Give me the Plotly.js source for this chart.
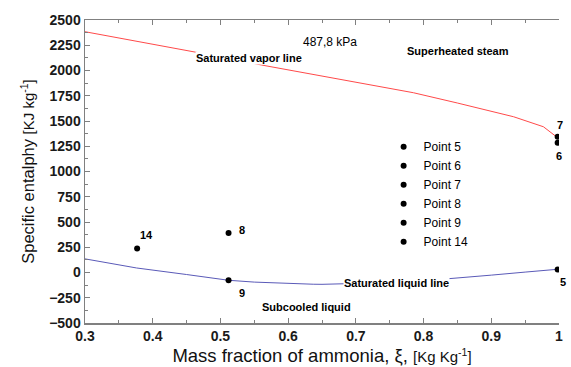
<!DOCTYPE html>
<html>
<head>
<meta charset="utf-8">
<script src="https://cdn.plot.ly/plotly-3.0.1.min.js"></script>
<style>html,body{margin:0;padding:0;background:#fff;}#chart{width:571px;height:367px;}</style>
</head>
<body>
<div id="chart"></div>
<script>
// Saturated vapor line (red)
const vaporX = [0.3, 0.35, 0.4, 0.463, 0.5, 0.561, 0.6, 0.65, 0.696, 0.75, 0.785, 0.85, 0.884, 0.933, 0.977, 0.995];
const vaporY = [2384, 2323, 2262, 2186, 2136, 2054, 2005, 1945, 1889, 1823, 1780, 1678, 1625, 1542, 1443, 1350];
// Saturated liquid line (blue)
const liquidX = [0.3, 0.35, 0.376, 0.45, 0.512, 0.55, 0.6, 0.637, 0.65, 0.7, 0.75, 0.8, 0.844, 0.9, 0.95, 0.998];
const liquidY = [135, 75, 45, -20, -77, -95, -110, -116, -117, -112, -100, -82, -60, -26, 4, 32];
// State points
const pointNames = ['Point 5', 'Point 6', 'Point 7', 'Point 8', 'Point 9', 'Point 14'];
const pointLabels = ['5', '6', '7', '8', '9', '14'];
const pointX = [0.998, 0.998, 0.998, 0.512, 0.512, 0.377];
const pointY = [30, 1284, 1344, 392, -77, 238];

// label pixel offsets (style only)
const labelShift = {'5': [5, -13], '6': [1, -13], '7': [2, 12], '8': [13, 3], '9': [13, -13], '14': [9, 13]};

const F = 'Liberation Sans, Arial, sans-serif';
const traces = [
  {x: vaporX, y: vaporY, mode: 'lines', line: {color: '#ff4a4a', width: 1}, showlegend: false, hoverinfo: 'skip'},
  {x: liquidX, y: liquidY, mode: 'lines', line: {color: '#5a5ab8', width: 1}, showlegend: false, hoverinfo: 'skip'}
];
pointNames.forEach((n, i) => {
  traces.push({x: [pointX[i]], y: [pointY[i]], name: n, mode: 'markers',
    marker: {color: '#000', size: 6}});
});

const annotations = [];
pointLabels.forEach((l, i) => {
  annotations.push({x: pointX[i], y: pointY[i], text: '<b>' + l + '</b>', showarrow: false,
    xshift: labelShift[l][0], yshift: labelShift[l][1], font: {family: F, size: 11, color: '#000'}});
});
const bold = {family: F, size: 11, color: '#000'};
annotations.push(
  {x: 0.662, y: 2284, text: '487,8 kPa', showarrow: false, font: {family: F, size: 12, color: '#000'}},
  {x: 0.851, y: 2193, text: '<b>Superheated steam</b>', showarrow: false, font: bold},
  {x: 0.542, y: 2120, text: '<b>Saturated vapor line</b>', showarrow: false, font: bold, bgcolor: '#fff', borderpad: 0},
  {x: 0.760, y: -99, text: '<b>Saturated liquid line</b>', showarrow: false, font: bold, bgcolor: '#fff', borderpad: 0},
  {x: 0.627, y: -341, text: '<b>Subcooled liquid</b>', showarrow: false, font: bold}
);

const tickFont = {family: F, size: 14, color: '#1a1a1a', weight: 'bold'};
const layout = {
  width: 571, height: 367,
  margin: {l: 85, r: 12, t: 20, b: 44, pad: 0},
  paper_bgcolor: '#fff', plot_bgcolor: '#fff',
  font: {family: F, size: 13, color: '#222'},
  showlegend: true,
  legend: {x: 0.63, y: 0.425, xanchor: 'left', yanchor: 'middle', bgcolor: 'rgba(0,0,0,0)',
    font: {family: F, size: 12, color: '#000'}, tracegroupgap: 0},
  xaxis: {range: [0.3, 1.0], dtick: 0.1, tick0: 0.3, tickformat: '.1~f',
    showgrid: false, zeroline: false, showline: true, linecolor: '#808080', linewidth: 1.5,
    mirror: 'ticks', ticks: 'inside', ticklen: 5, tickcolor: '#808080', tickwidth: 1,
    minor: {dtick: 0.05, ticks: 'inside', ticklen: 3, tickcolor: '#808080'},
    tickfont: tickFont,
    title: {text: '\u00a0\u00a0\u00a0\u00a0\u00a0\u00a0Mass fraction of ammonia, ξ, <span style="font-size:15px">[Kg Kg<sup>-1</sup>]</span>', font: {family: F, size: 18.5, color: '#111'}, standoff: 6}},
  yaxis: {range: [-500, 2500], dtick: 250, showgrid: false, zeroline: false,
    showline: true, linecolor: '#808080', linewidth: 1.5, mirror: false,
    ticks: 'inside', ticklen: 5, tickcolor: '#808080', tickwidth: 1,
    minor: {dtick: 125, ticks: 'inside', ticklen: 3, tickcolor: '#808080'},
    tickfont: tickFont,
    title: {text: 'Specific entalphy <span style="font-size:15px">[KJ kg<sup>-1</sup>]</span>', font: {family: F, size: 16.5, color: '#111'}, standoff: 10}},
  annotations: annotations
};
Plotly.newPlot('chart', traces, layout, {displayModeBar: false, staticPlot: true});
</script>
</body>
</html>
